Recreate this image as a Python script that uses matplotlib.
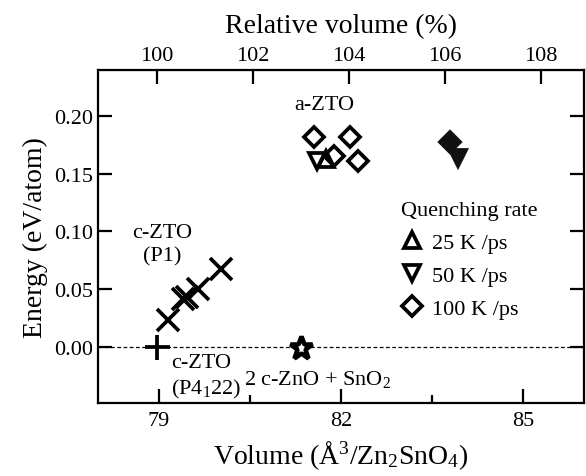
import matplotlib
matplotlib.use("Agg")
import matplotlib.pyplot as plt
from matplotlib.lines import Line2D

plt.rcParams['font.family'] = ['Liberation Serif', 'DejaVu Serif']
plt.rcParams['mathtext.fontset'] = 'custom'
plt.rcParams['mathtext.rm'] = 'Liberation Serif'
plt.rcParams['mathtext.it'] = 'Liberation Serif:italic'

# reference volume for relative axis (c-ZTO P4122)
V0 = 78.97

# c-ZTO (P4122)
v_p4122 = [78.97]
e_p4122 = [0.0]

# c-ZTO (P1)
v_p1 = [79.15, 79.40, 79.47, 79.64, 80.03]
e_p1 = [0.023, 0.041, 0.043, 0.050, 0.067]

# 2 c-ZnO + SnO2
v_zno = [81.34]
e_zno = [-0.001]

# a-ZTO, open markers
v_25 = [81.75]
e_25 = [0.163]
v_50 = [81.60]
e_50 = [0.161]
v_100 = [81.55, 82.15, 81.88, 82.28]
e_100 = [0.182, 0.182, 0.165, 0.161]

# a-ZTO, filled markers
v_fill_d = [83.79]
e_fill_d = [0.178]
v_fill_v = [83.92]
e_fill_v = [0.164]

fig = plt.figure(figsize=(5.86, 4.77), dpi=100)
ax = fig.add_axes([0.167, 0.153, 0.83, 0.698])

ax.axhline(0, color='black', ls=(0, (3, 2)), lw=0.9, zorder=1)

mew = 2.7
ax.plot(v_p4122, e_p4122, '+', ms=18, mew=mew, color='black', zorder=3)
ax.plot(v_p1, e_p1, 'x', ms=16, mew=mew, color='black', zorder=3)
ax.plot(v_zno, e_zno, '*', ms=17, mew=3.3, mfc='white', mec='black', zorder=3)
ax.plot(v_25, e_25, '^', ms=12, mew=mew, mfc='none', mec='black', zorder=3)
ax.plot(v_50, e_50, 'v', ms=12, mew=mew, mfc='none', mec='black', zorder=3)
ax.plot(v_100, e_100, 'D', ms=10, mew=mew, mfc='none', mec='black', zorder=3)
ax.plot(v_fill_d, e_fill_d, 'D', ms=10, mew=mew, color='#111111', zorder=3)
ax.plot(v_fill_v, e_fill_v, 'v', ms=12, mew=mew, color='#111111', zorder=3)

ax.set_xlim(78.0, 86.0)
ax.set_ylim(-0.049, 0.24)
ax.set_xticks([79, 82, 85])
ax.set_xticks([80.5, 83.5], minor=True)
ax.set_yticks([0.0, 0.05, 0.10, 0.15, 0.20])
ax.set_yticklabels(['0.00', '0.05', '0.10', '0.15', '0.20'])

ax.tick_params(which='both', direction='in', width=1.6, labelsize=16, top=False, right=True)
ax.tick_params(which='major', length=10)
ax.tick_params(which='minor', length=6)
ax.tick_params(axis='x', pad=6)
for s in ax.spines.values():
    s.set_linewidth(1.6)

ax.set_xlabel('Volume (Å$^3$/Zn$_2$SnO$_4$)', fontsize=20, labelpad=6)
ax.set_ylabel('Energy (eV/atom)', fontsize=20, labelpad=4)

sec = ax.secondary_xaxis('top', functions=(lambda v: v / V0 * 100, lambda r: r * V0 / 100))
sec.set_xticks([100, 102, 104, 106, 108])
sec.tick_params(direction='in', length=10, width=1.6, labelsize=16, pad=4)
sec.set_xlabel('Relative volume (%)', fontsize=20, labelpad=10)

ax.text(81.73, 0.210, 'a-ZTO', fontsize=16, ha='center', va='center')
ax.text(79.05, 0.089, 'c-ZTO\n(P1)', fontsize=16, ha='center', va='center', linespacing=1.3)
ax.text(79.2, -0.026, 'c-ZTO\n(P4$_1$22)', fontsize=16, ha='left', va='center', linespacing=1.3)
ax.text(81.62, -0.028, '2 c-ZnO + SnO$_2$', fontsize=16, ha='center', va='center')

handles = [
    Line2D([], [], ls='none', marker='^', ms=12, mew=mew, mfc='none', mec='black'),
    Line2D([], [], ls='none', marker='v', ms=12, mew=mew, mfc='none', mec='black'),
    Line2D([], [], ls='none', marker='D', ms=10, mew=mew, mfc='none', mec='black'),
]
leg = ax.legend(handles, ['25 K /ps', '50 K /ps', '100 K /ps'], title='Quenching rate',
                loc='upper left', bbox_to_anchor=(0.592, 0.652), frameon=False,
                fontsize=16, title_fontsize=16, handlelength=1.0, handletextpad=0.4,
                labelspacing=0.55, borderpad=0.2, alignment='left')

fig.savefig('out.png', dpi=100)
